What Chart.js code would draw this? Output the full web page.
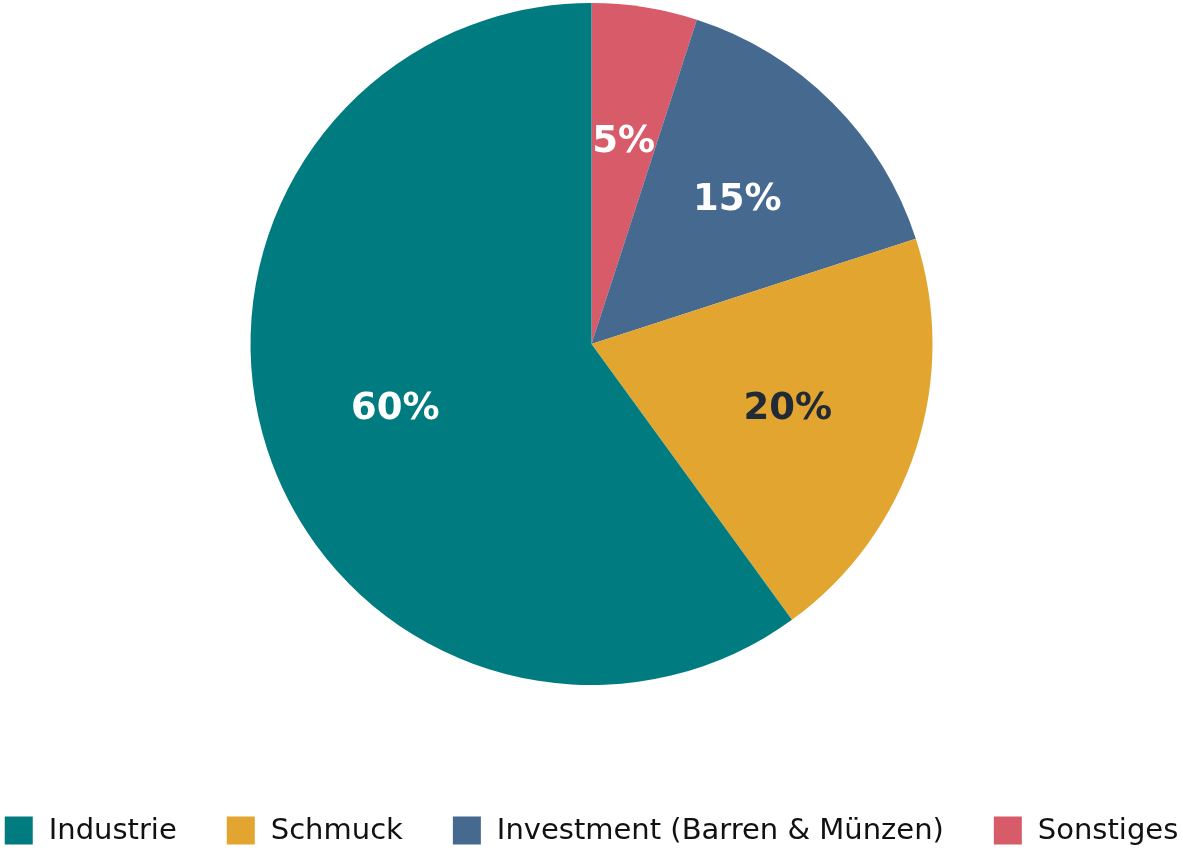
<!DOCTYPE html>
<html>
<head>
<meta charset="utf-8">
<script src="https://cdn.jsdelivr.net/npm/chart.js@4/dist/chart.umd.min.js"></script>
<style>
  html, body { margin: 0; padding: 0; background: #ffffff; }
  #wrap { width: 1183px; height: 851px; position: relative; }
</style>
</head>
<body>
<div id="wrap"><canvas id="c"></canvas></div>
<script>
// ---- data ----
const categories = ['Industrie', 'Schmuck', 'Investment (Barren & Münzen)', 'Sonstiges'];
const shares = [60, 20, 15, 5];
const percentLabels = ['60%', '20%', '15%', '5%'];

// ---- styles ----
const sliceColors = ['#007C80', '#E1A530', '#46698F', '#D85B6A'];
const labelColors = ['#ffffff', '#212A35', '#ffffff', '#ffffff'];
const FONT = "'DejaVu Sans', 'Liberation Sans', sans-serif";

// Pie is drawn counter-clockwise from the top in the reference,
// Chart.js draws clockwise, so reverse the order for drawing.
const order = categories.map((_, i) => i).reverse();

const pctLabelPlugin = {
  id: 'pctLabels',
  afterDatasetsDraw(chart) {
    const ctx = chart.ctx;
    const meta = chart.getDatasetMeta(0);
    ctx.save();
    ctx.font = "bold 37px " + FONT;
    ctx.textAlign = 'center';
    ctx.textBaseline = 'middle';
    meta.data.forEach((arc, i) => {
      const src = order[i];
      const mid = (arc.startAngle + arc.endAngle) / 2;
      const d = arc.outerRadius * 0.605;
      const x = arc.x + Math.cos(mid) * d;
      const y = arc.y + Math.sin(mid) * d;
      ctx.fillStyle = labelColors[src];
      ctx.fillText(percentLabels[src], x, y + 2);
    });
    ctx.restore();
  }
};

const legendPlugin = {
  id: 'customLegend',
  afterDraw(chart) {
    const ctx = chart.ctx;
    ctx.save();
    ctx.font = "29px " + FONT;
    const box = 28, gap = 16, spacing = 50;
    const widths = categories.map(t => ctx.measureText(t).width);
    let total = 0;
    widths.forEach((w, i) => { total += box + gap + w + (i < widths.length - 1 ? spacing : 0); });
    let x = (chart.width - total) / 2;
    const yMid = 830.5;
    ctx.textBaseline = 'middle';
    ctx.textAlign = 'left';
    categories.forEach((t, i) => {
      ctx.fillStyle = sliceColors[i];
      ctx.fillRect(x, yMid - box / 2, box, box);
      ctx.fillStyle = '#111111';
      ctx.fillText(t, x + box + gap, yMid + 1);
      x += box + gap + widths[i] + spacing;
    });
    ctx.restore();
  }
};

new Chart(document.getElementById('c'), {
  type: 'pie',
  data: {
    labels: order.map(i => categories[i]),
    datasets: [{
      data: order.map(i => shares[i]),
      backgroundColor: order.map(i => sliceColors[i]),
      borderWidth: 0,
      hoverOffset: 0
    }]
  },
  options: {
    responsive: true,
    maintainAspectRatio: false,
    animation: false,
    layout: { padding: { top: 3, bottom: 166, left: 0, right: 0 } },
    plugins: {
      legend: { display: false },
      tooltip: { enabled: false }
    }
  },
  plugins: [pctLabelPlugin, legendPlugin]
});
</script>
</body>
</html>
